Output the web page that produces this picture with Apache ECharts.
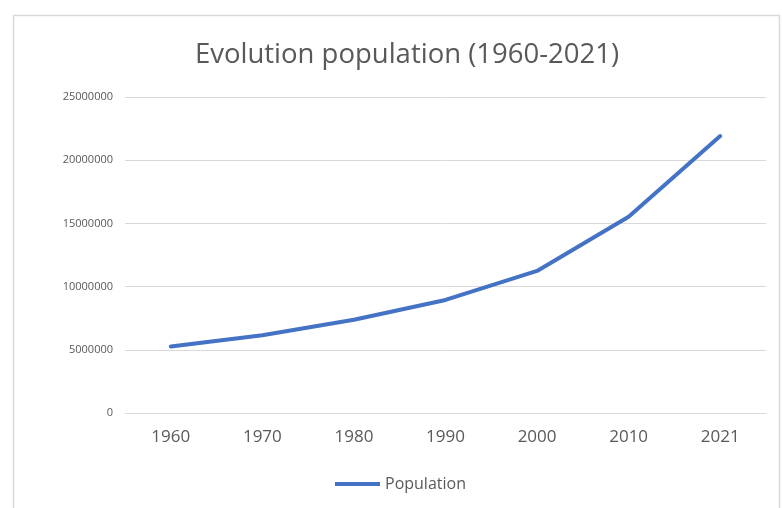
<!DOCTYPE html>
<html>
<head>
<meta charset="utf-8">
<script src="https://cdn.jsdelivr.net/npm/echarts@6/dist/echarts.min.js"></script>
<style>
  html, body { margin: 0; padding: 0; background: #ffffff; }
  #chart { width: 782px; height: 508px; }
</style>
</head>
<body>
<div id="chart"></div>
<script>
// Population by year
const years = ['1960', '1970', '1980', '1990', '2000', '2010', '2021'];
const population = [5264000, 6153000, 7372000, 8946000, 11239000, 15529000, 21905000];
const seriesName = 'Population';
const titleText = 'Evolution population (1960-2021)';

const FONT = '"Open Sans", "Noto Sans", sans-serif';
const TEXT_GRAY = '#595959';
const GRID_GRAY = '#d9d9d9';
const LINE_BLUE = '#4472C4';

const chart = echarts.init(document.getElementById('chart'), null, { renderer: 'canvas' });

chart.setOption({
  backgroundColor: '#ffffff',
  animation: false,
  title: {
    text: titleText,
    left: 402,
    top: 36,
    textAlign: 'center',
    textStyle: { fontFamily: FONT, fontSize: 27.5, fontWeight: 'normal', color: TEXT_GRAY }
  },
  graphic: [{
    type: 'rect',
    shape: { x: 13.5, y: 15.5, width: 766, height: 520 },
    style: { fill: null, stroke: GRID_GRAY, lineWidth: 1.5 },
    silent: true,
    z: -1
  }],
  legend: {
    data: [{ name: seriesName, icon: 'rect' }],
    left: 330,
    top: 471,
    itemWidth: 45,
    itemHeight: 4,
    itemGap: 10,
    textStyle: { fontFamily: FONT, fontSize: 16, color: TEXT_GRAY }
  },
  grid: { left: 125, right: 16, top: 97, bottom: 95, containLabel: false },
  xAxis: {
    type: 'category',
    data: years,
    boundaryGap: true,
    axisLine: { lineStyle: { color: GRID_GRAY, width: 1 } },
    axisTick: { show: false },
    axisLabel: { fontFamily: FONT, fontSize: 17, color: TEXT_GRAY, margin: 16 }
  },
  yAxis: {
    type: 'value',
    min: 0,
    max: 25000000,
    interval: 5000000,
    axisLine: { show: false },
    axisTick: { show: false },
    axisLabel: {
      fontFamily: FONT,
      fontSize: 11,
      color: TEXT_GRAY,
      margin: 12,
      formatter: (v) => String(v)
    },
    splitLine: { lineStyle: { color: GRID_GRAY, width: 1 } }
  },
  series: [{
    name: seriesName,
    type: 'line',
    data: population,
    symbol: 'none',
    smooth: false,
    lineStyle: { color: LINE_BLUE, width: 4, cap: 'round', join: 'round' },
    itemStyle: { color: LINE_BLUE }
  }]
});
</script>
</body>
</html>
